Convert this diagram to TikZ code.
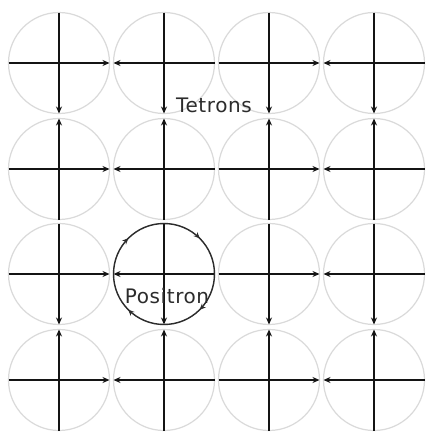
\documentclass[tikz,border=0pt]{standalone}
\usepackage{fontspec}
\setmainfont{DejaVu Sans}
\newfontfamily\lblfont[LetterSpace=3]{DejaVu Sans}
\usetikzlibrary{arrows.meta,decorations.markings}
\definecolor{ink}{HTML}{141414}
\definecolor{rim}{HTML}{DADADA}
\tikzset{
  tet/.style={circle, draw=rim, line width=1.2pt, minimum size=101pt, inner sep=0pt, outer sep=0pt},
  flow/.style={-{Stealth[length=7pt,width=6pt]}, line width=1.3pt, color=ink},
  ring/.style={draw=ink!90, line width=1.4pt, postaction={decorate},
    decoration={markings, mark=between positions 0.125 and 1 step 0.25
      with {\arrow{Stealth[length=6pt,width=5.5pt]}}}},
  lbl/.style={font=\lblfont\fontsize{20}{20}\selectfont, text=ink!90, inner sep=0pt},
}

\begin{document}
\begin{tikzpicture}[x=1pt,y=-1pt]
  \fill[white] (0,0) rectangle (429,434);
  \useasboundingbox (0,0) rectangle (429,434);
  % tetron lattice
  \foreach \r/\y in {1/63,2/169,3/274,4/380}
    \foreach \c/\x in {1/59,2/164,3/269,4/374}
      \node[tet] (t\r\c) at (\x,\y) {};
  % horizontal axes, pairs pointing at each other
  \foreach \r in {1,...,4} {
    \foreach \c in {1,3} \draw[flow] (t\r\c.west) -- (t\r\c.east);
    \foreach \c in {2,4} \draw[flow] (t\r\c.east) -- (t\r\c.west);
  }
  % vertical axes
  \foreach \c in {1,...,4} {
    \foreach \r in {1,3} \draw[flow] (t\r\c.north) -- (t\r\c.south);
    \foreach \r in {2,4} \draw[flow] (t\r\c.south) -- (t\r\c.north);
  }
  % positron
  \draw[ring] (t32.center) circle[radius=50.5];
  \node[lbl] (tetrons) at (214,105) {Tetrons};
  \node[lbl] (positron) at (167,296) {Positron};
\end{tikzpicture}
\end{document}
